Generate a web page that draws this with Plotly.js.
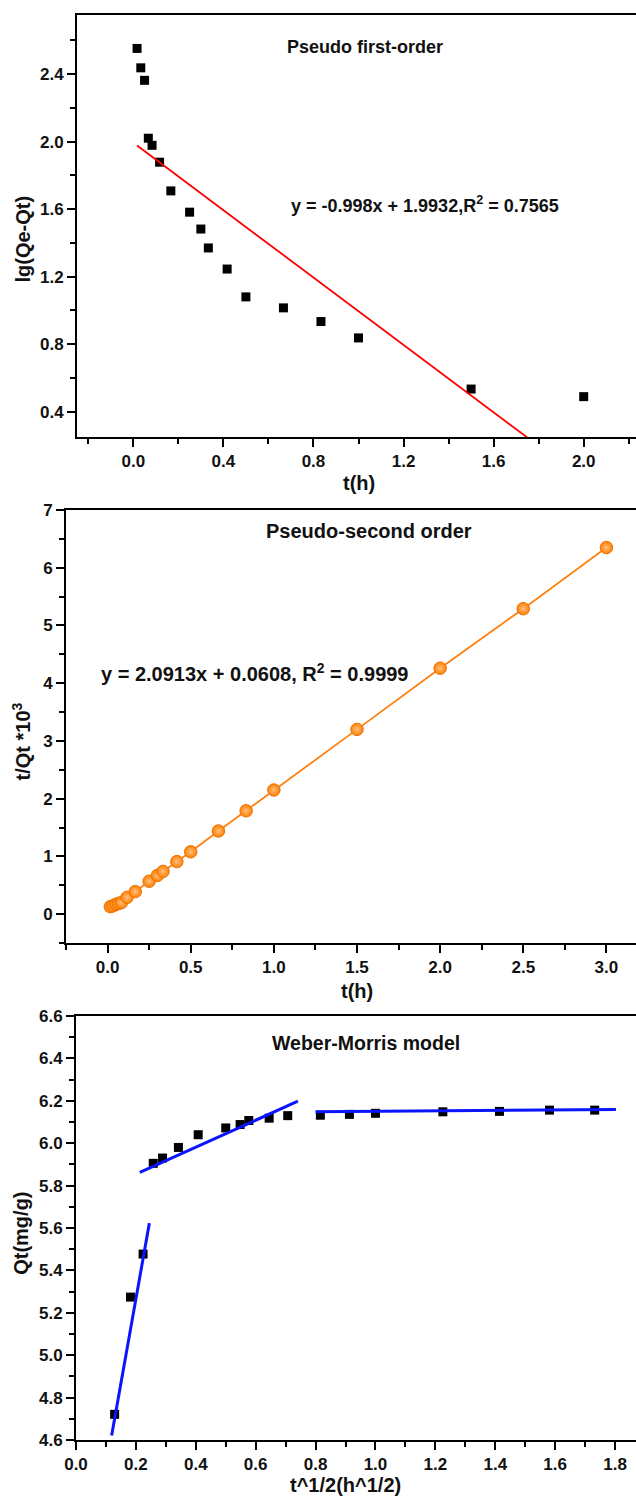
<!DOCTYPE html>
<html>
<head>
<meta charset="utf-8">
<script src="https://cdn.plot.ly/plotly-3.0.1.min.js"></script>
<style>
html,body{margin:0;padding:0;overflow:hidden;background:#fff;}
#chart{width:650px;height:1496px;}
</style>
</head>
<body>
<div id="chart"></div>
<script>
// ---- Panel 1: Pseudo first-order ----
const t1 = [0.0167,0.0333,0.05,0.0667,0.0833,0.1167,0.1667,0.25,0.3,0.3333,0.4167,0.5,0.6667,0.8333,1.0,1.5,2.0];
const lgQ = [2.552,2.437,2.363,2.02,1.978,1.878,1.708,1.582,1.482,1.37,1.245,1.08,1.015,0.934,0.837,0.534,0.489];
const fit1Slope = -0.998;
const fit1Intercept = 1.9932;
const fit1X = [0.0167,1.76];

// ---- Panel 2: Pseudo-second order ----
const t2 = [0.0167,0.0333,0.05,0.0667,0.0833,0.1167,0.1667,0.25,0.3,0.3333,0.4167,0.5,0.6667,0.8333,1.0,1.5,2.0,2.5,3.0];
const tQt = [0.13,0.145,0.17,0.185,0.2,0.29,0.39,0.57,0.67,0.74,0.91,1.08,1.44,1.79,2.15,3.2,4.26,5.29,6.35];

// ---- Panel 3: Weber-Morris ----
const sqrtT = [0.129,0.182,0.224,0.258,0.289,0.342,0.408,0.5,0.548,0.577,0.645,0.707,0.816,0.913,1.0,1.225,1.414,1.581,1.732];
const Qt = [4.721,5.274,5.477,5.905,5.93,5.98,6.04,6.072,6.088,6.107,6.118,6.13,6.132,6.136,6.141,6.148,6.15,6.156,6.156];
const seg1X = [0.119,0.245], seg1Y = [4.621,5.623];
const seg2X = [0.213,0.741], seg2Y = [5.862,6.198];
const seg3X = [0.80,1.803],  seg3Y = [6.148,6.159];

// texts
const titles = ["Pseudo first-order","Pseudo-second order","Weber-Morris model"];
const eq1 = "y = -0.998x + 1.9932,R<sup>2</sup> = 0.7565";
const eq2 = "y = 2.0913x + 0.0608, R<sup>2</sup> = 0.9999";
const axisTitles = ["lg(Qe-Qt)","t(h)","t/Qt *10<sup>3</sup>","t(h)","Qt(mg/g)","t^1/2(h^1/2)"];

const W = 650, H = 1496;
const px = x => x / W;
const py = y => 1 - y / H;
const FONT = "Liberation Sans, Arial, Helvetica, sans-serif";

const fit1Y = fit1X.map(x => fit1Slope * x + fit1Intercept);

const traces = [
  {x:t1, y:lgQ, xaxis:'x', yaxis:'y', mode:'markers', type:'scatter',
   marker:{symbol:'square', size:9, color:'#000'}},
  {x:fit1X, y:fit1Y, xaxis:'x', yaxis:'y', mode:'lines', type:'scatter',
   line:{color:'#ff0000', width:1.8}},
  {x:t2, y:tQt, xaxis:'x2', yaxis:'y2', mode:'lines+markers', type:'scatter',
   line:{color:'#ff8010', width:1.8},
   marker:{symbol:'circle', size:12.5, color:'#ff8000',
           gradient:{type:'radial', color:'#ffbf80'},
           line:{color:'#f07000', width:1}}},
  {x:sqrtT, y:Qt, xaxis:'x3', yaxis:'y3', mode:'markers', type:'scatter',
   marker:{symbol:'square', size:9, color:'#000'}},
  {x:seg1X, y:seg1Y, xaxis:'x3', yaxis:'y3', mode:'lines', type:'scatter', line:{color:'#0a14ff', width:3}},
  {x:seg2X, y:seg2Y, xaxis:'x3', yaxis:'y3', mode:'lines', type:'scatter', line:{color:'#0a14ff', width:3}},
  {x:seg3X, y:seg3Y, xaxis:'x3', yaxis:'y3', mode:'lines', type:'scatter', line:{color:'#0a14ff', width:3}}
];

const MINOR = (d) => ({dtick:d, ticklen:5, tickwidth:2, tickcolor:'#000', ticks:'outside'});
function ax(opts){
  return Object.assign({
    showgrid:false, zeroline:false, showline:true, linecolor:'#000', linewidth:2,
    ticks:'outside', ticklen:8, tickwidth:2, tickcolor:'#000', mirror:true,
    tickprefix:'<b>', ticksuffix:'</b>',
    tickfont:{family:FONT, size:17, color:'#111'},
    fixedrange:true
  }, opts);
}

const layout = {
  width:W, height:H, margin:{l:0,r:0,t:0,b:0},
  paper_bgcolor:'#fff', plot_bgcolor:'#fff', showlegend:false,
  xaxis: ax({domain:[px(77),px(640)], anchor:'y', range:[-0.25,2.25], tick0:0, dtick:0.4, tickformat:'.1f', minor:MINOR(0.2)}),
  yaxis: ax({domain:[py(437),py(15)], anchor:'x', range:[0.25,2.75], tick0:0, dtick:0.4, tickformat:'.1f', minor:MINOR(0.2)}),
  xaxis2: ax({domain:[px(66),px(648)], anchor:'y2', range:[-0.25,3.25], tick0:0, dtick:0.5, tickformat:'.1f', minor:MINOR(0.25)}),
  yaxis2: ax({domain:[py(943),py(510)], anchor:'x2', range:[-0.5,7], tick0:0, dtick:1, minor:MINOR(0.5)}),
  xaxis3: ax({domain:[px(76),px(645)], anchor:'y3', range:[0,1.9], tick0:0, dtick:0.2, tickformat:'.1f', minor:MINOR(0.1)}),
  yaxis3: ax({domain:[py(1440),py(1016)], anchor:'x3', range:[4.6,6.6], tick0:4.6, dtick:0.2, tickformat:'.1f', minor:MINOR(0.1)}),
  annotations: [
    {text:titles[0], x:px(364.5), y:py(46.7), size:18},
    {text:eq1, x:px(424.7), y:py(205), size:18},
    {text:titles[1], x:px(369), y:py(530.7), size:20},
    {text:eq2, x:px(254.5), y:py(672.7), size:20},
    {text:titles[2], x:px(366), y:py(1043), size:19.5},
    {text:axisTitles[0], x:px(22), y:py(239.5), size:20, angle:-90},
    {text:axisTitles[1], x:px(359), y:py(483), size:20},
    {text:axisTitles[2], x:px(21), y:py(741.5), size:20, angle:-90},
    {text:axisTitles[3], x:px(357), y:py(991), size:20},
    {text:axisTitles[4], x:px(20.3), y:py(1233.5), size:20, angle:-90},
    {text:axisTitles[5], x:px(345), y:py(1485), size:20}
  ].map(a => ({
    text:'<b>' + a.text + '</b>', x:a.x, y:a.y, xref:'paper', yref:'paper', showarrow:false,
    xanchor:'center', yanchor:'middle', textangle:a.angle || 0,
    font:{family:FONT, size:a.size, color:'#111'}
  }))
};

Plotly.newPlot('chart', traces, layout, {staticPlot:true, displayModeBar:false});
</script>
</body>
</html>
